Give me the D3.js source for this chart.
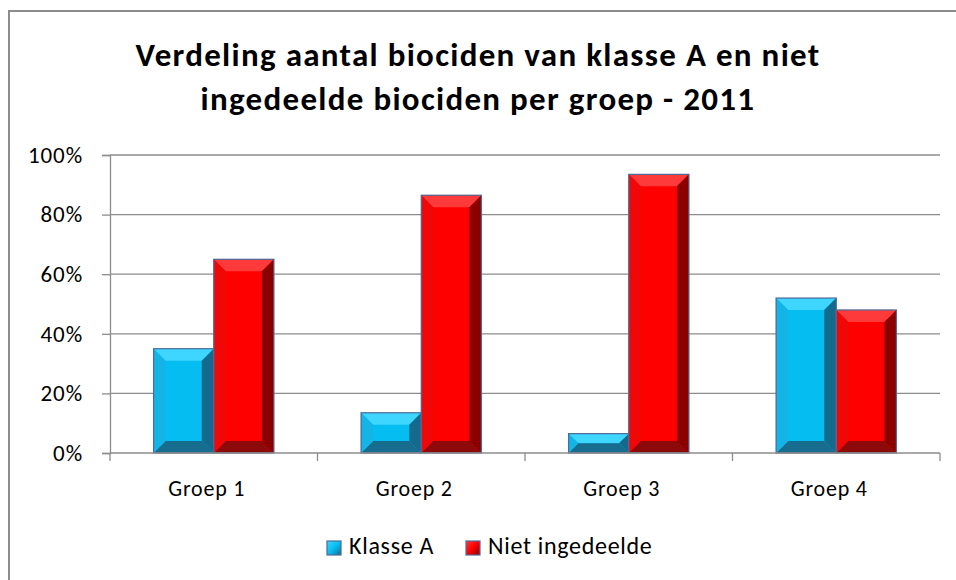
<!DOCTYPE html>
<html>
<head>
<meta charset="utf-8">
<script src="https://cdn.jsdelivr.net/npm/d3@7"></script>
<style>
  body { margin: 0; background: #fff; }
  svg { display: block; font-family: Carlito, Calibri, Lato, sans-serif; }
</style>
</head>
<body>
<svg id="chart" width="956" height="580"></svg>
<script>
  // data
  const groups = ["Groep 1", "Groep 2", "Groep 3", "Groep 4"]
  const series = ["Klasse A", "Niet ingedeelde"]
  const klasseA = [0.35, 0.135, 0.065, 0.52]
  const nietIngedeeld = [0.65, 0.865, 0.935, 0.48]
  const yTicks = [0, 0.2, 0.4, 0.6, 0.8, 1]
  const titleLines = ["Verdeling aantal biociden van klasse A en niet",
                      "ingedeelde biociden per groep - 2011"]

  // bevel shades: face, top, left, right, bottom
  const shades = {
    "Klasse A":        {face: "#06bdf2", top: "#3ed6ff", left: "#14b4e6", right: "#136a8c", bottom: "#176d8e"},
    "Niet ingedeelde": {face: "#fe0000", top: "#ff3a3a", left: "#f00808", right: "#8a0000", bottom: "#8e0a0a"}
  }

  const svg = d3.select("#chart")
  const plot = {left: 110, right: 940, top: 155, bottom: 453}

  // outer frame
  svg.append("rect")
    .attr("x", 9).attr("y", 11)
    .attr("width", 960).attr("height", 600)
    .attr("fill", "none").attr("stroke", "#8c8c8c").attr("stroke-width", 2)

  // title
  svg.append("g").selectAll("text")
    .data(titleLines)
    .join("text")
      .attr("x", 478)
      .attr("y", (d, i) => 66 + i * 44)
      .attr("text-anchor", "middle")
      .style("font-size", "33px")
      .style("font-weight", "bold")
      .style("letter-spacing", "1.3px")
      .text(d => d)

  const y = d3.scaleLinear().domain([0, 1]).range([plot.bottom, plot.top])
  const x0 = d3.scaleBand().domain(groups).range([plot.left, plot.right])
  const x1 = d3.scaleBand().domain(series)
    .range([x0.bandwidth() * 0.21, x0.bandwidth() * 0.79])

  // gridlines
  svg.append("g").selectAll("line")
    .data(yTicks.slice(1))
    .join("line")
      .attr("x1", plot.left).attr("x2", plot.right)
      .attr("y1", d => y(d)).attr("y2", d => y(d))
      .attr("stroke", "#8c8c8c").attr("stroke-width", 1.3)

  // y axis
  const yAxis = svg.append("g")
    .attr("transform", `translate(${plot.left},0)`)
    .call(d3.axisLeft(y).tickValues(yTicks).tickFormat(d3.format(".0%")).tickSize(8).tickPadding(19))
  yAxis.select(".domain").attr("stroke", "#8c8c8c").attr("stroke-width", 1.3)
  yAxis.selectAll(".tick line").attr("stroke", "#8c8c8c").attr("stroke-width", 1.3)
  yAxis.selectAll("text")
    .style("font-size", "23px")
    .style("letter-spacing", "0.9px")
    .style("font-family", "Carlito, Calibri, Lato, sans-serif")
    .attr("fill", "#000")

  // bars
  const rows = groups.map((g, i) => ({group: g, values: [
    {key: series[0], value: klasseA[i]},
    {key: series[1], value: nietIngedeeld[i]}
  ]}))

  const bars = svg.append("g").selectAll("g")
    .data(rows)
    .join("g")
      .attr("transform", d => `translate(${x0(d.group)},0)`)
    .selectAll("g")
    .data(d => d.values)
    .join("g")

  bars.each(function(d) {
    const g = d3.select(this)
    const bx = x1(d.key), bw = x1.bandwidth()
    const by = y(d.value), bh = y(0) - y(d.value)
    const b = Math.min(12, bh / 2, bw / 2)
    const c = shades[d.key]
    g.append("rect").attr("x", bx).attr("y", by).attr("width", bw).attr("height", bh).attr("fill", c.face)
    const polys = [
      [c.top,    [[bx, by], [bx + bw, by], [bx + bw - b, by + b], [bx + b, by + b]]],
      [c.bottom, [[bx, by + bh], [bx + bw, by + bh], [bx + bw - b, by + bh - b], [bx + b, by + bh - b]]],
      [c.left,   [[bx, by], [bx + b, by + b], [bx + b, by + bh - b], [bx, by + bh]]],
      [c.right,  [[bx + bw, by], [bx + bw - b, by + b], [bx + bw - b, by + bh - b], [bx + bw, by + bh]]]
    ]
    polys.forEach(p => {
      g.append("polygon").attr("points", p[1].map(q => q.join(",")).join(" ")).attr("fill", p[0])
    })
    g.append("rect").attr("x", bx).attr("y", by).attr("width", bw).attr("height", bh)
      .attr("fill", "none").attr("stroke", "#4f6a96").attr("stroke-width", 1.2)
  })

  // x axis
  const xAxis = svg.append("g")
    .attr("transform", `translate(0,${plot.bottom})`)
  xAxis.append("line")
    .attr("x1", plot.left).attr("x2", plot.right)
    .attr("stroke", "#8c8c8c").attr("stroke-width", 1.5)
  xAxis.selectAll(".sep")
    .data(groups.map(g => x0(g)).concat([plot.right]))
    .join("line")
      .attr("class", "sep")
      .attr("x1", d => d).attr("x2", d => d)
      .attr("y1", 0).attr("y2", 8)
      .attr("stroke", "#8c8c8c").attr("stroke-width", 1.3)
  xAxis.selectAll(".lbl")
    .data(groups)
    .join("text")
      .attr("class", "lbl")
      .attr("x", d => x0(d) + x0.bandwidth() / 2 - 7)
      .attr("y", 43)
      .attr("text-anchor", "middle")
      .style("font-size", "22px")
      .style("letter-spacing", "0.8px")
      .text(d => d)

  // legend
  const legendX = [327, 466]
  const defs = svg.append("defs")
  series.forEach((s, i) => {
    const grad = defs.append("linearGradient").attr("id", "lg" + i)
      .attr("x1", "0").attr("y1", "0").attr("x2", "1").attr("y2", "1")
    grad.append("stop").attr("offset", "0").attr("stop-color", shades[s].top)
    grad.append("stop").attr("offset", "0.5").attr("stop-color", shades[s].face)
    grad.append("stop").attr("offset", "1").attr("stop-color", shades[s].right)
  })
  const legend = svg.append("g").selectAll("g")
    .data(series)
    .join("g")
      .attr("transform", (d, i) => `translate(${legendX[i]},541)`)
  legend.append("rect")
    .attr("width", 14).attr("height", 14)
    .attr("fill", (d, i) => `url(#lg${i})`)
    .attr("stroke", "#4f6a96").attr("stroke-width", 1.2)
  legend.append("text")
    .attr("x", 22).attr("y", 13)
    .style("font-size", "24px")
    .style("letter-spacing", "0.7px")
    .text(d => d)
</script>
</body>
</html>
